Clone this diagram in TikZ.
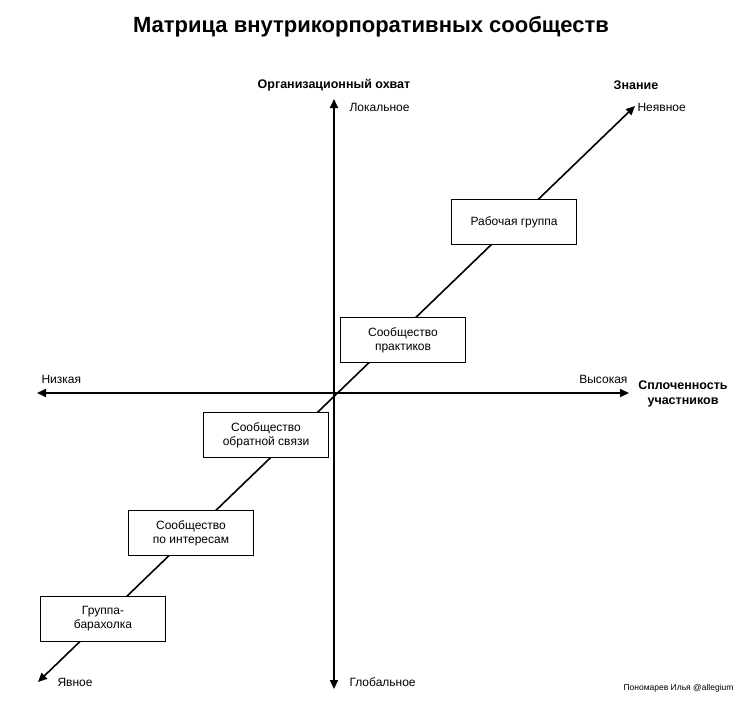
\documentclass[tikz,border=0pt]{standalone}
\usepackage{fontspec}
\setmainfont{Liberation Sans}
\usetikzlibrary{arrows.meta}
\begin{document}
\begin{tikzpicture}[x=1pt,y=-1pt,
  ax/.style={line width=1.6pt,{Triangle[length=9pt,width=8pt]}-{Triangle[length=9pt,width=8pt]}},
  box/.style={draw,line width=0.8pt,minimum width=125pt,minimum height=45pt,align=center,font=\fontsize{12}{14}\selectfont},
  lab/.style={font=\fontsize{12}{14}\selectfont},
  bl/.style={font=\fontsize{12.5}{15}\selectfont\bfseries,align=center}]
\useasboundingbox (0,0) rectangle (742,701);
\node[font=\fontsize{22}{26}\selectfont\bfseries] (t) at (371,27) {Матрица внутрикорпоративных сообществ};
\coordinate (top) at (334,99);
\coordinate (bot) at (334,689);
\coordinate (lft) at (37,393);
\coordinate (rgt) at (629,393);
\coordinate (ll) at (38,682);
\coordinate (ur) at (635,106);
\draw[ax] (bot) -- (top);
\draw[ax] (lft) -- (rgt);
\draw[ax] (ll) -- (ur);
\node[box,fill=white] (b1) at (514,222) {Рабочая группа};
\node[box,fill=white] (b2) at (403,340) {Сообщество\\практиков};
\node[box,fill=white] (b3) at (266,435) {Сообщество\\обратной связи};
\node[box,fill=white] (b4) at (191,533) {Сообщество\\по интересам};
\node[box,fill=white] (b5) at (103,619) {Группа-\\барахолка};
\node[bl] (oo) at (334,85) {Организационный охват};
\node[lab,anchor=west] (loc) at (346,107) {Локальное};
\node[bl] (zn) at (636,85) {Знание};
\node[lab,anchor=west] (nev) at (634,107) {Неявное};
\node[lab,anchor=west] (niz) at (38,379) {Низкая};
\node[lab,anchor=east] (vys) at (631,379) {Высокая};
\node[bl] (spl) at (683,394) {Сплоченность\\участников};
\node[lab,anchor=west] (yav) at (54,682) {Явное};
\node[lab,anchor=west] (glo) at (346,682) {Глобальное};
\node[font=\fontsize{8.5}{10}\selectfont,anchor=east] (au) at (737,688) {Пономарев Илья @allegium};
\end{tikzpicture}
\end{document}
